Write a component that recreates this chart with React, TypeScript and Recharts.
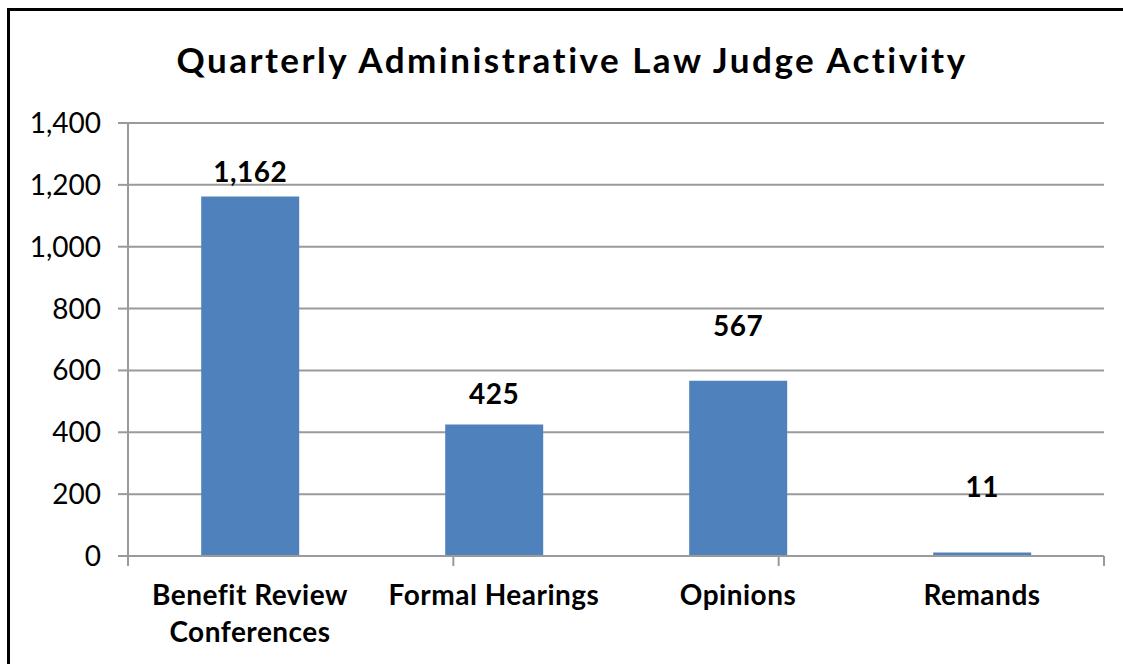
import React from "react";
import { BarChart, Bar, XAxis, YAxis, CartesianGrid, LabelList } from "recharts";

const chartTitle = "Quarterly Administrative Law Judge Activity";
const categories = ["Benefit Review Conferences", "Formal Hearings", "Opinions", "Remands"];
const activityCounts = [1162, 425, 567, 11];
const yTicks = [0, 200, 400, 600, 800, 1000, 1200, 1400];
const boundaryTicks = [0, 1, 2, 3, 4];

// style: distance from bar top to label baseline (labels were hand-placed in the original)
const labelLift = [15, 21, 45, 56];

const data = categories.map((name, i) => ({ name, value: activityCounts[i] }));

const FONT = "Lato, 'Open Sans', sans-serif";
const GRID = "#9a9a9a";
const BAR = "#4F81BD";

const fmt = (v: number) => v.toLocaleString("en-US");

const wrapWords = (s: string, maxChars: number) => {
  const words = s.split(" ");
  const lines: string[] = [];
  let cur = "";
  for (const w of words) {
    const next = cur ? cur + " " + w : w;
    if (next.length > maxChars && cur) {
      lines.push(cur);
      cur = w;
    } else {
      cur = next;
    }
  }
  if (cur) lines.push(cur);
  return lines;
};

const CategoryTick = (props: any) => {
  const { x, y, payload } = props;
  const lines = wrapWords(String(payload.value), 16);
  return (
    <text
      x={x}
      y={y + 48}
      textAnchor="middle"
      style={{ fontFamily: FONT, fontWeight: 700, fontSize: 28, letterSpacing: 0.5, fill: "#000" }}
    >
      {lines.map((l, i) => (
        <tspan key={i} x={x} dy={i === 0 ? 0 : 37}>
          {l}
        </tspan>
      ))}
    </text>
  );
};

const EmptyTick = () => <g />;

const ValueLabel = (props: any) => {
  const { x, y, width, value, index } = props;
  return (
    <text
      x={x + width / 2}
      y={y - labelLift[index]}
      textAnchor="middle"
      style={{ fontFamily: FONT, fontWeight: 700, fontSize: 28, letterSpacing: 0.5, fill: "#000" }}
    >
      {fmt(value)}
    </text>
  );
};

export default function App() {
  return (
    <div
      style={{
        position: "fixed",
        left: 0,
        top: 0,
        width: 1123,
        height: 664,
        overflow: "hidden",
        background: "#fff",
      }}
    >
      <div
        style={{
          position: "absolute",
          left: 7,
          top: 8,
          width: 1300,
          height: 800,
          borderLeft: "3px solid #000",
          borderTop: "3px solid #000",
        }}
      />
      <svg width={1123} height={100} style={{ position: "absolute", left: 0, top: 0 }}>
        <text
          x={572}
          y={73}
          textAnchor="middle"
          style={{ fontFamily: FONT, fontWeight: 700, fontSize: 35, letterSpacing: 2.5, fill: "#000" }}
        >
          {chartTitle}
        </text>
      </svg>
      <div style={{ position: "absolute", left: 0, top: 0 }}>
        <BarChart
          width={1123}
          height={664}
          data={data}
          margin={{ top: 123, right: 19, bottom: 0, left: 0 }}
          barCategoryGap="30%"
        >
          <CartesianGrid vertical={false} stroke={GRID} strokeWidth={2} />
          <XAxis
            xAxisId="bounds"
            type="number"
            domain={[0, 4]}
            ticks={boundaryTicks}
            tick={<EmptyTick />}
            tickSize={10}
            height={1}
            stroke={GRID}
            axisLine={{ stroke: GRID, strokeWidth: 2 }}
            tickLine={{ stroke: GRID, strokeWidth: 2 }}
            allowDataOverflow
          />
          <XAxis
            xAxisId="cat"
            dataKey="name"
            type="category"
            height={107}
            axisLine={false}
            tickLine={false}
            tickSize={0}
            tickMargin={0}
            interval={0}
            tick={<CategoryTick />}
          />
          <YAxis
            width={128}
            domain={[0, 1400]}
            ticks={yTicks}
            interval={0}
            tickFormatter={fmt}
            tickSize={10}
            tickMargin={17}
            axisLine={{ stroke: GRID, strokeWidth: 2 }}
            tickLine={{ stroke: GRID, strokeWidth: 2 }}
            tick={{ fontFamily: FONT, fontSize: 28, fill: "#000" }}
          />
          <Bar xAxisId="cat" dataKey="value" fill={BAR} isAnimationActive={false}>
            <LabelList dataKey="value" content={<ValueLabel />} />
          </Bar>
        </BarChart>
      </div>
    </div>
  );
}
